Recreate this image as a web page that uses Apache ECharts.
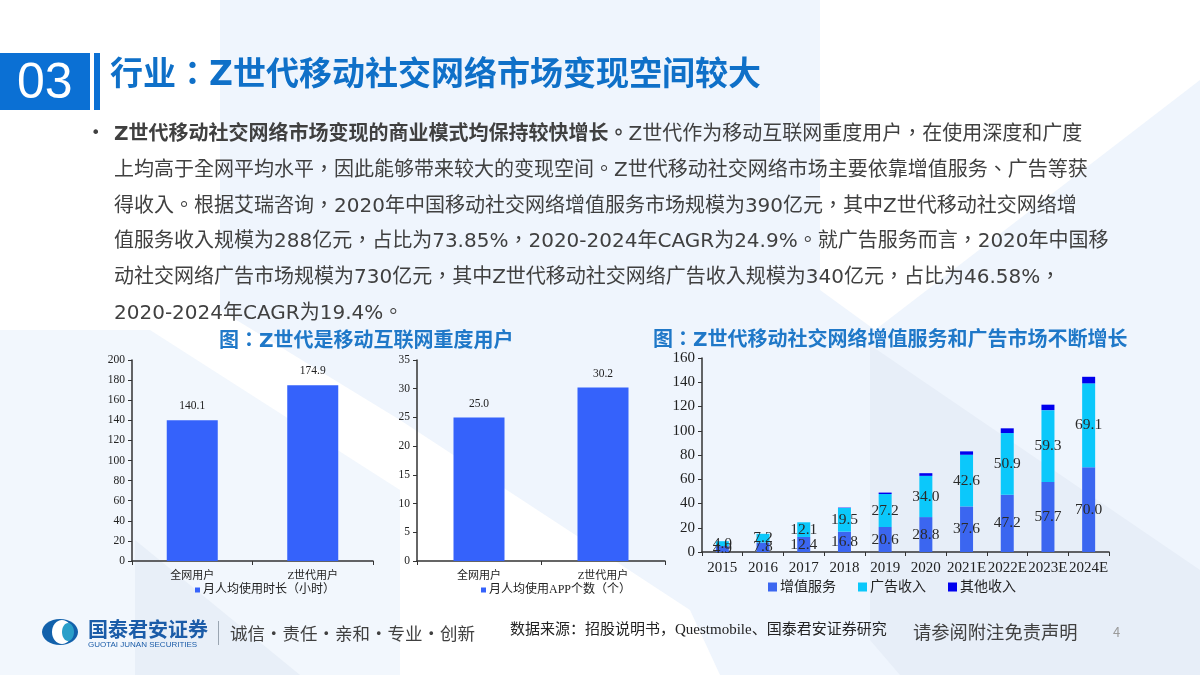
<!DOCTYPE html>
<html>
<head>
<meta charset="utf-8">
<style>
  html, body { margin: 0; padding: 0; background: #fff; }
  #main { width: 1200px; height: 675px; }
</style>
<script src="https://cdn.jsdelivr.net/npm/echarts@6/dist/echarts.min.js"></script>
</head>
<body>
<div id="main"></div>
<script>
// 左侧两个柱状图
const userTypes = ['全网用户', 'Z世代用户'];
const hoursName = '月人均使用时长（小时）';
const hoursValues = [140.1, 174.9];
const appsName = '月人均使用APP个数（个）';
const appsValues = [25.0, 30.2];

// 右侧堆叠图
const years = ['2015', '2016', '2017', '2018', '2019', '2020', '2021E', '2022E', '2023E', '2024E'];
const valueAddedName = '增值服务';
const valueAdded = [4.9, 7.8, 12.4, 16.8, 20.6, 28.8, 37.6, 47.2, 57.7, 70.0];
const adsName = '广告收入';
const ads = [4.0, 7.2, 12.1, 19.5, 27.2, 34.0, 42.6, 50.9, 59.3, 69.1];
const otherName = '其他收入';
const other = [0, 0, 0, 0.3, 1.2, 2.2, 2.8, 3.9, 4.5, 5.4];

// 页面文字
const pageNo = '03';
const pageTitle = '行业：Z世代移动社交网络市场变现空间较大';
const boldLead = 'Z世代移动社交网络市场变现的商业模式均保持较快增长。';
const bodyLines = [
  'Z世代作为移动互联网重度用户，在使用深度和广度',
  '上均高于全网平均水平，因此能够带来较大的变现空间。Z世代移动社交网络市场主要依靠增值服务、广告等获',
  '得收入。根据艾瑞咨询，2020年中国移动社交网络增值服务市场规模为390亿元，其中Z世代移动社交网络增',
  '值服务收入规模为288亿元，占比为73.85%，2020-2024年CAGR为24.9%。就广告服务而言，2020年中国移',
  '动社交网络广告市场规模为730亿元，其中Z世代移动社交网络广告收入规模为340亿元，占比为46.58%，',
  '2020-2024年CAGR为19.4%。'
];
const leftTitle = '图：Z世代是移动互联网重度用户';
const rightTitle = '图：Z世代移动社交网络增值服务和广告市场不断增长';
const sourceText = '数据来源：招股说明书，Questmobile、国泰君安证券研究';

const sans = '"DejaVu Sans", "Noto Sans CJK TC", sans-serif';
const plainCjk = '"Noto Sans CJK SC", sans-serif';
const serif = '"Liberation Serif", "Noto Sans CJK SC", serif';
const axisColor = '#333';

function txt(x, y, text, size, color, extra) {
  return {
    type: 'text', x: x, y: y, z: 5,
    style: Object.assign({
      text: text, fontSize: size, fill: color, fontFamily: sans,
      textVerticalAlign: 'middle'
    }, extra || {})
  };
}
function poly(points, fill) {
  return { type: 'polygon', z: -10, shape: { points: points }, style: { fill: fill } };
}
function rect(x, y, w, h, fill) {
  return { type: 'rect', z: 4, shape: { x: x, y: y, width: w, height: h }, style: { fill: fill } };
}

// 背景
const background = [
  poly([[0, 0], [1200, 0], [1200, 675], [0, 675]], '#ffffff'),
  poly([[220, 0], [820, 0], [820, 290], [875, 330], [1200, 80], [1200, 675], [720, 675], [690, 610], [400, 420], [220, 310]], '#eff5fd'),
  poly([[0, 330], [150, 330], [400, 490], [400, 675], [0, 675]], '#f2f7fd'),
  poly([[135, 540], [300, 675], [135, 675]], '#e8eff8'),
  poly([[870, 345], [1200, 570], [1200, 675], [900, 675], [870, 640]], '#e7eef8')
];

// 页眉和正文
const header = [
  rect(0, 53, 90, 57, '#0b70d4'),
  rect(94, 53, 6, 57, '#0b70d4'),
  txt(17, 84, pageNo, 50, '#ffffff', { fontFamily: '"Liberation Sans", sans-serif' }),
  txt(110, 76, pageTitle, 33, '#0f70c8', { fontWeight: 'bold' }),
  txt(91, 134, '•', 16, '#404040'),
  txt(114, 135, '{b|' + boldLead + '}' + bodyLines[0], 20, '#404040', {
    rich: { b: { fontSize: 20, fontWeight: 'bold', fill: '#404040', fontFamily: sans } }
  })
];
bodyLines.slice(1).forEach(function (line, i) {
  header.push(txt(114, 171 + i * 35.6, line, 20, '#404040'));
});
header.push(txt(219, 342, leftTitle, 20, '#1f78c8', { fontWeight: 'bold' }));
header.push(txt(653, 341, rightTitle, 20, '#1f78c8', { fontWeight: 'bold' }));

// 页脚和徽标
const footer = [
  { type: 'ellipse', z: 4, shape: { cx: 60, cy: 632, rx: 18, ry: 13 }, style: { fill: '#1261ab' } },
  { type: 'ellipse', z: 4, shape: { cx: 62, cy: 632, rx: 10, ry: 12 }, style: { fill: '#ffffff' } },
  { type: 'ellipse', z: 4, shape: { cx: 68, cy: 632, rx: 6, ry: 9 }, style: { fill: '#2a9fc9' } },
  txt(88, 629, '国泰君安证券', 20, '#1b5ca8', { fontWeight: 'bold', fontFamily: plainCjk }),
  txt(88, 645, 'GUOTAI JUNAN SECURITIES', 8, '#1b5ca8', { fontFamily: '"Liberation Sans", sans-serif' }),
  rect(218, 621, 1, 24, '#9aa5b1'),
  txt(230, 633, '诚信·责任·亲和·专业·创新', 17.5, '#404040', { fontFamily: plainCjk }),
  txt(510, 630, sourceText, 15, '#222222', { fontFamily: serif }),
  txt(913, 632, '请参阅附注免责声明', 18.3, '#404040', { fontFamily: plainCjk }),
  txt(1113, 632, '4', 13, '#9a9a9a', { fontFamily: plainCjk })
];

function yAxis(gridIndex, max, interval, size, lineWidth) {
  return {
    type: 'value', gridIndex: gridIndex, min: 0, max: max, interval: interval,
    splitLine: { show: false },
    axisLine: { show: true, lineStyle: { color: axisColor, width: lineWidth } },
    axisTick: { show: true, length: 4, lineStyle: { color: axisColor } },
    axisLabel: { fontFamily: serif, fontSize: size, color: '#222', margin: 7 }
  };
}
function xAxis(gridIndex, data, size, margin) {
  return {
    type: 'category', gridIndex: gridIndex, data: data,
    axisLine: { lineStyle: { color: axisColor, width: 1.5 } },
    axisTick: { show: true, alignWithLabel: false, length: 4, lineStyle: { color: axisColor } },
    axisLabel: { fontFamily: serif, fontSize: size, color: '#222', margin: margin, interval: 0 }
  };
}
function simpleBar(name, values, axisIdx) {
  return {
    type: 'bar', name: name, data: values, xAxisIndex: axisIdx, yAxisIndex: axisIdx,
    barWidth: 51, itemStyle: { color: '#3562fb' },
    label: {
      show: true, position: 'top', distance: 8, fontFamily: serif, fontSize: 11.5, color: '#222',
      formatter: function (p) { return p.value.toFixed(1); }
    }
  };
}
function stackBar(name, values, color, showLabel) {
  return {
    type: 'bar', name: name, data: values, stack: 'total', xAxisIndex: 2, yAxisIndex: 2,
    barWidth: 13, itemStyle: { color: color },
    label: {
      show: showLabel, position: 'inside', fontFamily: serif, fontSize: 15.5, color: '#2a2a2a',
      formatter: function (p) { return p.value.toFixed(1); }
    },
    labelLayout: { hideOverlap: false }
  };
}
function legend(left, top, names, size, itemSize, gap) {
  return {
    left: left, top: top, data: names, icon: 'rect', itemWidth: itemSize, itemHeight: itemSize,
    itemGap: gap, padding: 0, selectedMode: false,
    textStyle: { fontFamily: serif, fontSize: size, color: '#222', padding: [0, 0, 0, -2] }
  };
}

const chart = echarts.init(document.getElementById('main'), null, { renderer: 'canvas' });
chart.setOption({
  animation: false,
  backgroundColor: '#fff',
  textStyle: { fontFamily: serif },
  graphic: background.concat(header, footer),
  grid: [
    { left: 132, top: 360, width: 241, height: 201 },
    { left: 417, top: 360, width: 248, height: 201 },
    { left: 702, top: 358, width: 407, height: 194 }
  ],
  xAxis: [xAxis(0, userTypes, 11, 10), xAxis(1, userTypes, 11, 10), xAxis(2, years, 15, 9)],
  yAxis: [yAxis(0, 200, 20, 11.5, 1.5), yAxis(1, 35, 5, 11.5, 1.5), yAxis(2, 160, 20, 15, 1.5)],
  legend: [
    legend(195, 584, [hoursName], 12, 5, 0),
    legend(481, 584, [appsName], 12, 5, 0),
    legend(768, 580, [valueAddedName, adsName, otherName], 14, 9, 22)
  ],
  series: [
    simpleBar(hoursName, hoursValues, 0),
    simpleBar(appsName, appsValues, 1),
    stackBar(valueAddedName, valueAdded, '#3b66f0', true),
    stackBar(adsName, ads, '#0bc8fb', true),
    stackBar(otherName, other, '#0000ee', false)
  ]
});
</script>
</body>
</html>
